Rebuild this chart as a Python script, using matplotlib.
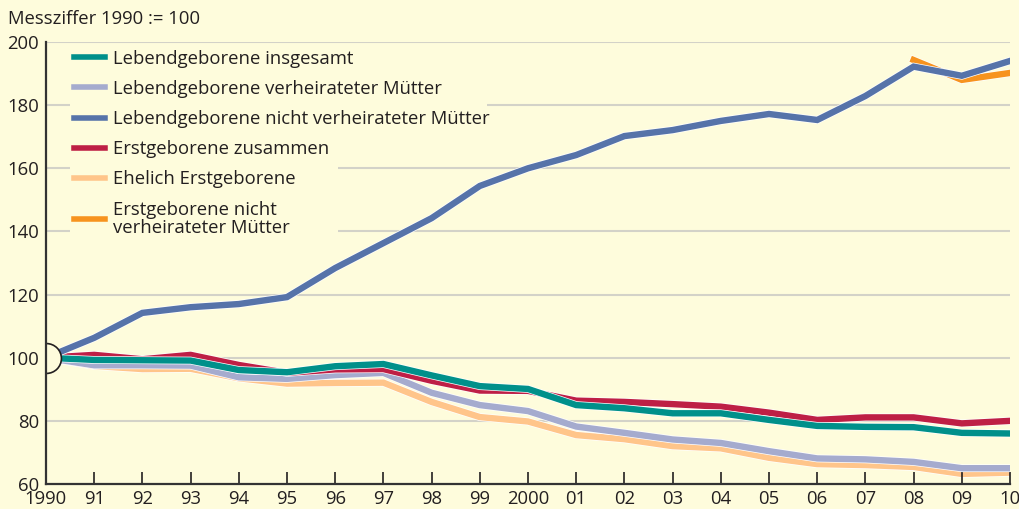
import numpy as np
import matplotlib
matplotlib.use("Agg")
import matplotlib.pyplot as plt
import matplotlib.patheffects as pe
from matplotlib.path import Path

plt.rcParams["font.family"] = ["Open Sans", "DejaVu Sans"]

# Data (Messziffer 1990 = 100)
years = list(range(1990, 2011))
year_labels = ["1990", "91", "92", "93", "94", "95", "96", "97", "98", "99",
               "2000", "01", "02", "03", "04", "05", "06", "07", "08", "09", "10"]

lebend_insgesamt = [100, 99.3, 99.2, 99.1, 96.1, 95.4, 97.3, 98.0, 94.4, 91.0, 90.1,
                    85.0, 84.0, 82.4, 82.4, 80.3, 78.4, 78.1, 78.0, 76.2, 76.0]
lebend_verheiratet = [100, 97.6, 97.6, 97.5, 93.8, 93.3, 94.5, 95.2, 88.9, 85.0, 83.1,
                      78.2, 76.2, 74.1, 73.0, 70.4, 68.1, 67.8, 67.0, 65.0, 65.0]
lebend_nicht_verh = [100, 106.3, 114.2, 116.0, 117.0, 119.2, 128.4, 136.3, 144.2, 154.4, 160.0,
                     164.2, 170.2, 172.1, 175.0, 177.2, 175.3, 182.9, 192.2, 189.3, 194.0]
erst_zusammen = [100, 100.9, 99.5, 100.9, 97.7, 95.2, 96.3, 96.4, 92.7, 89.6, 89.5,
                 86.4, 86.0, 85.3, 84.5, 82.6, 80.3, 81.1, 81.1, 79.2, 80.0]
ehelich_erst = [100, 97.4, 96.4, 96.5, 93.5, 91.8, 92.0, 92.1, 86.0, 81.2, 79.8,
                75.5, 74.2, 72.0, 71.3, 68.3, 66.3, 66.0, 65.4, 63.2, 63.6]
erst_nicht_verh = [np.nan] * 18 + [194.3, 188.0, 190.2]

labels = ["Lebendgeborene insgesamt",
          "Lebendgeborene verheirateter Mütter",
          "Lebendgeborene nicht verheirateter Mütter",
          "Erstgeborene zusammen",
          "Ehelich Erstgeborene",
          "Erstgeborene nicht\nverheirateter Mütter"]

bg = "#FEFCDC"
c_teal = "#00908A"
c_lilac = "#A5ABCE"
c_blue = "#5673A9"
c_red = "#BE1F45"
c_lorange = "#FFC58A"
c_orange = "#F7931E"
txt = "#231F20"
fs = 13.3

fig = plt.figure(figsize=(10.2, 5.09), dpi=100, facecolor=bg)
ax = fig.add_axes([46 / 1020, 25 / 509, 964 / 1020, 442 / 509])
ax.set_facecolor(bg)

# gridlines, partly hidden behind the legend texts as in the original
grid_c = "#D3D2C8"
for v, x0 in [(200, 1990), (180, 1999.15), (160, 1996.05), (140, 1996.05),
              (120, 1990), (100, 1990), (80, 1990)]:
    ax.hlines(v, x0, 2010, color=grid_c, lw=1.5, zorder=0.5)
    if x0 > 1990:
        ax.hlines(v, 1990, 1990.5, color=grid_c, lw=1.5, zorder=0.5)

lw = 4.6
stroke = [pe.withStroke(linewidth=lw + 1.0, foreground="white")]
series = [
    (ehelich_erst, c_lorange, 1),
    (erst_nicht_verh, c_orange, 1),
    (lebend_verheiratet, c_lilac, 2),
    (erst_zusammen, c_red, 3),
    (lebend_insgesamt, c_teal, 4),
    (lebend_nicht_verh, c_blue, 5),
]
for vals, col, z in series:
    ax.plot(years, vals, color=col, lw=lw, zorder=z, solid_joinstyle="miter",
            path_effects=stroke)

# half circle marking the base year
half = Path.arc(-90, 90)
ax.plot([1990], [100], marker=half, markersize=21.5, linestyle="none",
        markerfacecolor=bg, markeredgecolor=txt, markeredgewidth=1.2, zorder=6)

ax.set_xlim(1990, 2010)
ax.set_ylim(60, 200)
ax.set_xticks(years)
ax.set_xticklabels(year_labels)
ax.set_yticks([60, 80, 100, 120, 140, 160, 180, 200])
ax.tick_params(axis="x", direction="in", length=8.5, width=1.2, color=txt,
               pad=4.5, labelsize=fs, labelcolor=txt)
ax.tick_params(axis="y", length=0, pad=5, labelsize=fs, labelcolor=txt)
for s in ["top", "right"]:
    ax.spines[s].set_visible(False)
for s in ["left", "bottom"]:
    ax.spines[s].set_color("#333333")
    ax.spines[s].set_linewidth(1.6)
    ax.spines[s].set_zorder(7)

fig.text(8 / 1020, 1 - 19 / 509, "Messziffer 1990 := 100", fontsize=fs,
         color=txt, va="center", ha="left")

handles = [plt.Line2D([], [], color=c, lw=4.0) for c in
           [c_teal, c_lilac, c_blue, c_red, c_lorange, c_orange]]
leg = ax.legend(handles, labels, loc="upper left", bbox_to_anchor=(0.016, 1.012),
                frameon=False, fontsize=fs, handlelength=1.65, handletextpad=0.45,
                labelspacing=0.66, labelcolor=txt, borderaxespad=0.3)
leg.get_texts()[5].set_linespacing(1.0)
leg.set_zorder(8)

fig.savefig("out.png", dpi=100, facecolor=bg)
